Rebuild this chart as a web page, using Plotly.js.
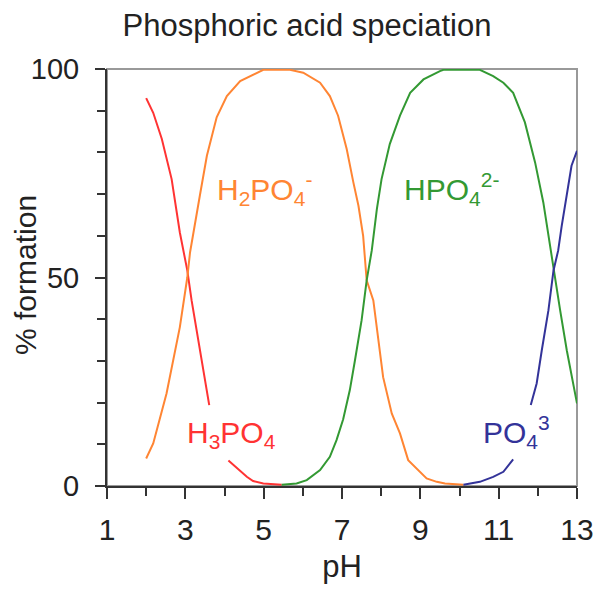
<!DOCTYPE html>
<html>
<head>
<meta charset="utf-8">
<script src="https://cdn.plot.ly/plotly-3.0.1.min.js"></script>
<style>html,body{margin:0;padding:0;background:#fff;}#chart{width:597px;height:589px;}</style>
</head>
<body>
<div id="chart"></div>
<script>
// Data (pH, % formation); null marks a gap in the drawn curve
const ph_H3PO4  = [2.0, 2.18, 2.40, 2.65, 2.86, 3.05, 3.16, 3.37, 3.61, null, 4.10, 4.57, 4.73, 4.99, 5.46];
const pct_H3PO4 = [93.0, 89.5, 83.2, 73.6, 60.8, 51.7, 44.5, 32.5, 19.4, null, 6.1, 2.2, 1.2, 0.6, 0.3];

const ph_H2PO4  = [2.0, 2.18, 2.52, 2.86, 3.05, 3.12, 3.37, 3.55, 3.80, 4.06, 4.40, 4.82, 4.99, 5.67, 6.01, 6.44, 6.69, 6.90, 7.12, 7.29, 7.42, 7.54, 7.63, 7.80, 7.97, 8.05, 8.27, 8.48, 8.69, 8.91, 9.16, 9.42, 9.63, 10.1];
const pct_H2PO4 = [6.6, 10.2, 22.2, 38.1, 50.0, 56.0, 69.6, 79.2, 88.4, 93.5, 97.1, 99.1, 99.8, 99.8, 99.1, 96.7, 93.5, 88.8, 80.8, 72.8, 67.2, 60.0, 49.3, 44.5, 32.5, 26.1, 17.4, 12.6, 6.2, 4.2, 1.8, 1.0, 0.6, 0.3];

const ph_HPO4  = [5.46, 5.84, 6.10, 6.44, 6.69, 6.86, 7.03, 7.20, 7.33, 7.50, 7.63, 7.76, 7.89, 8.01, 8.22, 8.48, 8.74, 9.08, 9.50, 9.59, 10.52, 10.86, 11.12, 11.37, 11.67, 11.93, 12.14, 12.31, 12.40, 12.57, 12.74, 13.0];
const pct_HPO4 = [0.3, 0.6, 1.4, 3.8, 7.0, 11.0, 16.0, 23.0, 30.1, 39.7, 49.3, 56.5, 66.4, 73.6, 82.0, 88.8, 94.3, 97.5, 99.5, 99.8, 99.8, 98.3, 96.7, 94.3, 87.2, 77.6, 68.0, 57.7, 51.7, 42.1, 32.5, 19.8];

const ph_PO4  = [10.1, 10.52, 10.86, 11.12, 11.37, null, 11.82, 11.97, 12.10, 12.27, 12.40, 12.52, 12.61, 12.74, 12.86, 13.0];
const pct_PO4 = [0.3, 1.0, 2.2, 3.4, 6.4, null, 19.4, 24.6, 32.5, 42.1, 51.7, 56.5, 62.4, 69.6, 76.8, 80.4];

const speciesLabels = ["H<sub>3</sub>PO<sub>4</sub>", "H<sub>2</sub>PO<sub>4</sub><sup>-</sup>", "HPO<sub>4</sub><sup>2-</sup>", "PO<sub>4</sub><sup>3</sup>"];
const labelPH  = [4.17, 5.03, 9.80, 11.46];
const labelPct = [12.4, 71.3, 71.3, 12.9];

const xTickVals = [1, 3, 5, 7, 9, 11, 13];
const yTickVals = [0, 50, 100];

const colors = ["#ff3333", "#ff8533", "#339933", "#333399"];
const FONT = "Liberation Sans, Arial, sans-serif";
const INK = "#222";

const series = [[ph_H3PO4, pct_H3PO4], [ph_H2PO4, pct_H2PO4], [ph_HPO4, pct_HPO4], [ph_PO4, pct_PO4]];
const traces = series.map((s, i) => ({
  x: s[0], y: s[1], type: "scatter", mode: "lines", connectgaps: false,
  line: {color: colors[i], width: 2}, hoverinfo: "skip", showlegend: false
}));

const annotations = speciesLabels.map((t, i) => ({
  x: labelPH[i], y: labelPct[i], xref: "x", yref: "y", text: t, showarrow: false,
  font: {family: FONT, size: 30, color: colors[i]}, xanchor: "center", yanchor: "middle"
}));
annotations.push({
  text: "% formation", xref: "paper", yref: "paper", x: (25 - 107) / 470, y: (486 - 275) / 417,
  xanchor: "center", yanchor: "middle", textangle: -90, showarrow: false,
  font: {family: FONT, size: 30, color: INK}
});

const layout = {
  width: 597, height: 589,
  margin: {l: 107, r: 20, t: 69, b: 103},
  paper_bgcolor: "#fff", plot_bgcolor: "#fff",
  font: {family: FONT, size: 30, color: INK},
  title: {text: "Phosphoric acid speciation", font: {family: FONT, size: 31, color: INK},
          xref: "container", yref: "container", x: 307 / 597, xanchor: "center", y: 1 - 25 / 589, yanchor: "middle"},
  xaxis: {
    range: [1, 13], tickvals: xTickVals, ticktext: xTickVals.map(String),
    showgrid: false, zeroline: false, showline: true, linecolor: "#333", linewidth: 2,
    ticks: "outside", ticklen: 11, tickwidth: 2, tickcolor: "#333",
    minor: {dtick: 1, tick0: 1, ticks: "outside", ticklen: 8, tickwidth: 2, tickcolor: "#333", showgrid: false},
    tickfont: {family: FONT, size: 30, color: INK}, ticklabelstandoff: 5,
    title: {text: "pH", font: {family: FONT, size: 31, color: INK}, standoff: 10}
  },
  yaxis: {
    range: [0, 100], tickvals: yTickVals, ticktext: yTickVals.map(String),
    showgrid: false, zeroline: false, showline: true, linecolor: "#333", linewidth: 2,
    ticks: "outside", ticklen: 10, tickwidth: 2, tickcolor: "#333",
    minor: {dtick: 10, tick0: 0, ticks: "outside", ticklen: 8, tickwidth: 2, tickcolor: "#333", showgrid: false},
    tickfont: {family: FONT, size: 29, color: INK}, ticklabelstandoff: 10
  },
  shapes: [{type: "rect", xref: "paper", yref: "paper", x0: 0, x1: 1, y0: 0, y1: 1,
            line: {color: "#999", width: 2}, layer: "below"}],
  annotations: annotations
};

Plotly.newPlot("chart", traces, layout, {displayModeBar: false, staticPlot: true});
</script>
</body>
</html>
